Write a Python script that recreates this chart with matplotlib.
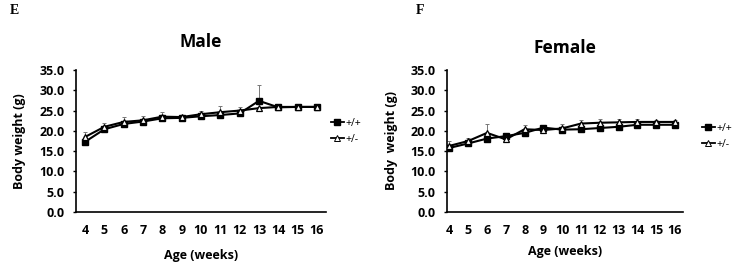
import matplotlib.pyplot as plt
from matplotlib.lines import Line2D

# ages in weeks
weeks = [4, 5, 6, 7, 8, 9, 10, 11, 12, 13, 14, 15, 16]

# male body weight (g)
male_wt = [17.3, 20.4, 21.7, 22.3, 23.1, 23.2, 23.6, 23.9, 24.3, 27.4, 25.8, 25.9, 25.9]
male_het = [18.5, 21.0, 22.2, 22.6, 23.5, 23.4, 24.1, 24.6, 25.0, 25.6, 25.9, 25.9, 25.9]
male_wt_err = [0.3, 0.3, 0.4, 0.4, 0.4, 0.3, 0.4, 0.4, 0.4, 4.0, 0.3, 0.3, 0.3]
male_het_err = [1.3, 1.0, 1.1, 1.1, 1.1, 0.5, 0.9, 1.5, 1.0, 0.4, 0.3, 0.3, 0.3]

# female body weight (g)
female_wt = [15.8, 16.9, 18.1, 18.7, 19.5, 20.8, 20.3, 20.4, 20.7, 21.0, 21.5, 21.5, 21.5]
female_het = [16.3, 17.5, 19.5, 17.9, 20.4, 20.2, 20.6, 21.8, 22.0, 22.1, 22.2, 22.2, 22.2]
female_wt_err = [0.3, 0.3, 0.4, 0.5, 0.4, 0.6, 0.3, 0.3, 0.3, 0.3, 0.3, 0.3, 0.3]
female_het_err = [1.3, 0.8, 2.1, 0.6, 1.1, 1.3, 1.2, 0.9, 0.8, 0.8, 0.6, 0.5, 0.5]

yticks = [0, 5, 10, 15, 20, 25, 30, 35]

plt.rcParams['font.family'] = ['Open Sans', 'DejaVu Sans']

fig = plt.figure(figsize=(7.36, 2.64), dpi=100)


def draw_panel(rect, xlim, title, title_y, ylabel, xlabel_y, ylabel_x, wt, het, wt_err, het_err, leg_xy):
    ax = fig.add_axes(rect)
    # error bars (upper only, thin grey)
    ax.errorbar(weeks, het, yerr=[[0] * len(het), het_err], fmt='none',
                ecolor='#777777', elinewidth=0.7, capsize=1.5, capthick=0.7, zorder=1)
    ax.errorbar(weeks, wt, yerr=[[0] * len(wt), wt_err], fmt='none',
                ecolor='#777777', elinewidth=0.7, capsize=1.5, capthick=0.7, zorder=1)
    ax.plot(weeks, wt, color='black', lw=1.5, marker='s', ms=5,
            mfc='black', mec='black', zorder=3)
    ax.plot(weeks, het, color='black', lw=1.5, marker='^', ms=5,
            mfc='white', mec='black', mew=0.9, zorder=4)

    ax.set_xlim(*xlim)
    ax.set_ylim(0, 35)
    ax.set_yticks(yticks)
    ax.set_yticklabels([f"{v:.1f}" for v in yticks], fontsize=9, fontweight='bold')
    ax.set_xticks(weeks)
    ax.set_xticklabels([str(w) for w in weeks], fontsize=9, fontweight='bold')
    ax.tick_params(axis='x', length=0, pad=9)
    ax.tick_params(axis='y', length=2.5, width=1, direction='out', pad=5.5)
    for s in ['top', 'right']:
        ax.spines[s].set_visible(False)
    for s in ['left', 'bottom']:
        ax.spines[s].set_linewidth(1.2)

    cx = (rect[0] + rect[0] + rect[2]) / 2
    fig.text(cx, title_y, title, ha='center', va='center', fontsize=12.5, fontweight='bold')
    fig.text(cx, xlabel_y, 'Age (weeks)', ha='center', va='center', fontsize=9, fontweight='bold')
    fig.text(ylabel_x, rect[1] + rect[3] / 2, ylabel, ha='center', va='center',
             rotation=90, fontsize=9, fontweight='bold')

    handles = [Line2D([], [], color='black', lw=1.3, marker='s', ms=4, mfc='black', mec='black'),
               Line2D([], [], color='black', lw=1.3, marker='^', ms=4, mfc='white', mec='black', mew=0.7)]
    fig.legend(handles, ['+/+', '+/-'], loc='upper left', bbox_to_anchor=leg_xy,
               frameon=False, fontsize=7.5, handlelength=1.2, handletextpad=0.15,
               labelspacing=0.45, borderpad=0, borderaxespad=0)
    return ax


draw_panel([76 / 736, 52 / 264, 250 / 736, 142 / 264], (3.53, 16.47), 'Male', 222 / 264,
           'Body weight (g)', 8 / 264, 20 / 736, male_wt, male_het, male_wt_err, male_het_err,
           (331 / 736, 146 / 264))
draw_panel([447 / 736, 52 / 264, 236 / 736, 142 / 264], (3.87, 16.43), 'Female', 216 / 264,
           'Body  weight (g)', 13 / 264, 392 / 736, female_wt, female_het, female_wt_err, female_het_err,
           (702 / 736, 141 / 264))

fig.text(14 / 736, 254 / 264, 'E', ha='center', va='center', fontsize=10,
         fontweight='bold', family='Liberation Serif')
fig.text(420 / 736, 254 / 264, 'F', ha='center', va='center', fontsize=10,
         fontweight='bold', family='Liberation Serif')

fig.savefig('out.png', dpi=100)
